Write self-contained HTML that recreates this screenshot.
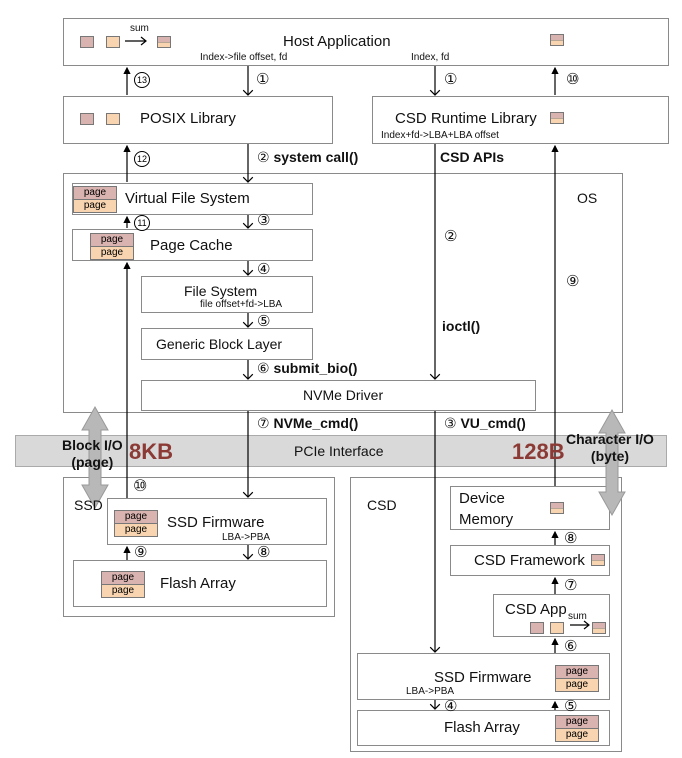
<!DOCTYPE html>
<html><head><style>
body{margin:0;width:682px;height:758px;background:#fff;position:relative;font-family:"Liberation Sans","DejaVu Sans",sans-serif;overflow:hidden}
.b{position:absolute;border:1px solid #8a8a8a;background:#fff;box-sizing:border-box}
.t{position:absolute;white-space:nowrap;color:#111}
.sq{position:absolute;width:14px;height:12px;border:1px solid #777;box-sizing:border-box}
.r{background:#d9b3b0}.o{background:#f8d5b0}
.pg{position:absolute;width:44px;border:1px solid #777;box-sizing:border-box;font-size:10px;text-align:center;line-height:11px}
.pg div{height:12px}
.pg div:first-child{background:#d9b3b0;border-bottom:1px solid #777}
.pg div:last-child{background:#f8d5b0}
.hs{position:absolute;width:14px;height:12px;border:1px solid #777;box-sizing:border-box;background:linear-gradient(#d9b3b0 50%,#777 50%,#777 56%,#f8d5b0 56%)}
.c{position:absolute;width:16px;height:16px;border:1px solid #000;border-radius:50%;box-sizing:border-box;font-size:9px;text-align:center;line-height:14px;background:#fff}
</style></head><body>
<div class="b" style="left:63px;top:173px;width:560px;height:240px"></div>
<div class="b" style="left:63px;top:18px;width:606px;height:48px"></div>
<div class="b" style="left:63px;top:96px;width:270px;height:48px"></div>
<div class="b" style="left:372px;top:96px;width:297px;height:48px"></div>
<div class="b" style="left:72px;top:183px;width:241px;height:32px"></div>
<div class="b" style="left:72px;top:229px;width:241px;height:32px"></div>
<div class="b" style="left:141px;top:276px;width:172px;height:37px"></div>
<div class="b" style="left:141px;top:328px;width:172px;height:32px"></div>
<div class="b" style="left:141px;top:380px;width:395px;height:31px"></div>
<div class="b" style="left:63px;top:477px;width:272px;height:140px"></div>
<div class="b" style="left:107px;top:498px;width:220px;height:47px"></div>
<div class="b" style="left:73px;top:560px;width:254px;height:47px"></div>
<div class="b" style="left:350px;top:477px;width:272px;height:275px"></div>
<div class="b" style="left:450px;top:486px;width:160px;height:44px"></div>
<div class="b" style="left:450px;top:545px;width:160px;height:31px"></div>
<div class="b" style="left:493px;top:594px;width:117px;height:43px"></div>
<div class="b" style="left:357px;top:653px;width:253px;height:47px"></div>
<div class="b" style="left:357px;top:710px;width:253px;height:36px"></div>
<div style="position:absolute;left:15px;top:435px;width:652px;height:32px;background:#d9d9d9;border:1px solid #aaa;box-sizing:border-box"></div>

<svg width="682" height="758" style="position:absolute;left:0;top:0">
<defs><marker id="a" markerWidth="10" markerHeight="10" refX="5" refY="5" orient="auto"><path d="M1,1 L5,5 L1,9" fill="none" stroke="#000" stroke-width="1"/></marker>
<marker id="f" markerWidth="6" markerHeight="6" refX="5" refY="3" orient="auto"><path d="M0,0 L6,3 L0,6z" fill="#000"/></marker></defs>
<g stroke="#000" stroke-width="1.2" fill="none">
<line x1="248" y1="66" x2="248" y2="95" marker-end="url(#a)"/>
<line x1="248" y1="144" x2="248" y2="182" marker-end="url(#a)"/>
<line x1="248" y1="215" x2="248" y2="228" marker-end="url(#a)"/>
<line x1="248" y1="261" x2="248" y2="275" marker-end="url(#a)"/>
<line x1="248" y1="313" x2="248" y2="327" marker-end="url(#a)"/>
<line x1="248" y1="360" x2="248" y2="379" marker-end="url(#a)"/>
<line x1="248" y1="411" x2="248" y2="497" marker-end="url(#a)"/>
<line x1="127" y1="95" x2="127" y2="68" marker-end="url(#f)"/>
<line x1="127" y1="182" x2="127" y2="146" marker-end="url(#f)"/>
<line x1="127" y1="228" x2="127" y2="217" marker-end="url(#f)"/>
<line x1="127" y1="498" x2="127" y2="263" marker-end="url(#f)"/>
<line x1="127" y1="560" x2="127" y2="547" marker-end="url(#f)"/>
<line x1="248" y1="545" x2="248" y2="559" marker-end="url(#a)"/>
<line x1="435" y1="66" x2="435" y2="95" marker-end="url(#a)"/>
<line x1="435" y1="144" x2="435" y2="379" marker-end="url(#a)"/>
<line x1="435" y1="411" x2="435" y2="652" marker-end="url(#a)"/>
<line x1="435" y1="700" x2="435" y2="709" marker-end="url(#a)"/>
<line x1="555" y1="95" x2="555" y2="68" marker-end="url(#f)"/>
<line x1="555" y1="486" x2="555" y2="146" marker-end="url(#f)"/>
<line x1="555" y1="545" x2="555" y2="532" marker-end="url(#f)"/>
<line x1="555" y1="594" x2="555" y2="578" marker-end="url(#f)"/>
<line x1="555" y1="653" x2="555" y2="639" marker-end="url(#f)"/>
<line x1="555" y1="710" x2="555" y2="702" marker-end="url(#f)"/>
<line x1="125" y1="41" x2="145" y2="41"/><path d="M141,37 L146,41 L141,45"/>
<line x1="570" y1="625" x2="588" y2="625"/><path d="M584,621 L589,625 L584,629"/>
</g>
<path d="M95,407 L108,430 L101,430 L101,485 L108,485 L95,508 L82,485 L89,485 L89,430 L82,430Z" fill="#b8b8b8" stroke="#999"/>
<path d="M612,410 L625,433 L618,433 L618,492 L625,492 L612,515 L599,492 L606,492 L606,433 L599,433Z" fill="#b8b8b8" stroke="#999"/>
</svg>

<div class="sq r" style="left:80px;top:36px"></div><div class="sq o" style="left:106px;top:36px"></div><div class="hs" style="left:157px;top:36px"></div>
<div class="t" style="left:130px;top:23px;font-size:10px">sum</div>
<div class="t" style="left:283px;top:33px;font-size:15px">Host Application</div>
<div class="hs" style="left:550px;top:34px"></div>
<div class="t" style="left:200px;top:52px;font-size:10px">Index-&gt;file offset, fd</div>
<div class="t" style="left:411px;top:52px;font-size:10px">Index, fd</div>
<div class="t" style="left:256px;top:70px;font-size:15px">①</div>
<div class="t" style="left:444px;top:70px;font-size:15px">①</div>
<div class="c" style="left:134px;top:72px">13</div>
<div class="t" style="left:566px;top:70px;font-size:15px">⑩</div>
<div class="sq r" style="left:80px;top:113px"></div><div class="sq o" style="left:106px;top:113px"></div>
<div class="t" style="left:140px;top:110px;font-size:15px">POSIX Library</div>
<div class="t" style="left:395px;top:110px;font-size:15px">CSD Runtime Library</div>
<div class="hs" style="left:550px;top:112px"></div>
<div class="t" style="left:381px;top:130px;font-size:10px">Index+fd-&gt;LBA+LBA offset</div>
<div class="c" style="left:134px;top:151px">12</div>
<div class="t" style="left:257px;top:149px;font-size:14px">② <b>system call()</b></div>
<div class="t" style="left:440px;top:149px;font-size:14px;font-weight:bold">CSD APIs</div>
<div class="t" style="left:577px;top:190px;font-size:14px">OS</div>
<div class="pg" style="left:73px;top:186px"><div>page</div><div>page</div></div>
<div class="t" style="left:125px;top:190px;font-size:15px">Virtual File System</div>
<div class="c" style="left:134px;top:215px">11</div>
<div class="t" style="left:257px;top:211px;font-size:15px">③</div>
<div class="pg" style="left:90px;top:233px"><div>page</div><div>page</div></div>
<div class="t" style="left:150px;top:237px;font-size:15px">Page Cache</div>
<div class="t" style="left:444px;top:227px;font-size:15px">②</div>
<div class="t" style="left:257px;top:260px;font-size:15px">④</div>
<div class="t" style="left:566px;top:272px;font-size:15px">⑨</div>
<div class="t" style="left:184px;top:283px;font-size:14px">File System</div>
<div class="t" style="left:200px;top:299px;font-size:10px">file offset+fd-&gt;LBA</div>
<div class="t" style="left:257px;top:312px;font-size:15px">⑤</div>
<div class="t" style="left:442px;top:318px;font-size:14px;font-weight:bold">ioctl()</div>
<div class="t" style="left:156px;top:336px;font-size:14px">Generic Block Layer</div>
<div class="t" style="left:257px;top:360px;font-size:14px">⑥ <b>submit_bio()</b></div>
<div class="t" style="left:303px;top:387px;font-size:14px">NVMe Driver</div>
<div class="t" style="left:257px;top:415px;font-size:14px">⑦ <b>NVMe_cmd()</b></div>
<div class="t" style="left:444px;top:415px;font-size:14px">③ <b>VU_cmd()</b></div>
<div class="t" style="left:62px;top:437px;font-size:14px;font-weight:bold;text-align:center;line-height:17px">Block I/O<br>(page)</div>
<div class="t" style="left:129px;top:439px;font-size:22px;font-weight:bold;color:#8b3a35">8KB</div>
<div class="t" style="left:294px;top:443px;font-size:14px">PCIe Interface</div>
<div class="t" style="left:512px;top:439px;font-size:22px;font-weight:bold;color:#8b3a35">128B</div>
<div class="t" style="left:566px;top:431px;font-size:14px;font-weight:bold;text-align:center;line-height:17px">Character I/O<br>(byte)</div>
<div class="t" style="left:133px;top:476px;font-size:16px">⑩</div>
<div class="t" style="left:74px;top:497px;font-size:14px">SSD</div>
<div class="pg" style="left:114px;top:510px"><div>page</div><div>page</div></div>
<div class="t" style="left:167px;top:514px;font-size:15px">SSD Firmware</div>
<div class="t" style="left:222px;top:532px;font-size:10px">LBA-&gt;PBA</div>
<div class="t" style="left:134px;top:543px;font-size:15px">⑨</div>
<div class="t" style="left:257px;top:543px;font-size:15px">⑧</div>
<div class="pg" style="left:101px;top:571px"><div>page</div><div>page</div></div>
<div class="t" style="left:160px;top:575px;font-size:15px">Flash Array</div>
<div class="t" style="left:367px;top:497px;font-size:14px">CSD</div>
<div class="t" style="left:459px;top:488px;font-size:15px;line-height:21px">Device<br>Memory</div>
<div class="hs" style="left:550px;top:502px"></div>
<div class="t" style="left:564px;top:529px;font-size:15px">⑧</div>
<div class="t" style="left:474px;top:552px;font-size:15px">CSD Framework</div>
<div class="hs" style="left:591px;top:554px"></div>
<div class="t" style="left:564px;top:576px;font-size:15px">⑦</div>
<div class="t" style="left:505px;top:601px;font-size:15px">CSD App</div>
<div class="t" style="left:568px;top:611px;font-size:10px">sum</div>
<div class="sq r" style="left:530px;top:622px"></div><div class="sq o" style="left:550px;top:622px"></div><div class="hs" style="left:592px;top:622px"></div>
<div class="t" style="left:564px;top:637px;font-size:15px">⑥</div>
<div class="t" style="left:434px;top:669px;font-size:15px">SSD Firmware</div>
<div class="pg" style="left:555px;top:665px"><div>page</div><div>page</div></div>
<div class="t" style="left:406px;top:686px;font-size:10px">LBA-&gt;PBA</div>
<div class="t" style="left:444px;top:697px;font-size:15px">④</div>
<div class="t" style="left:564px;top:697px;font-size:15px">⑤</div>
<div class="t" style="left:444px;top:719px;font-size:15px">Flash Array</div>
<div class="pg" style="left:555px;top:715px"><div>page</div><div>page</div></div>
</body></html>
